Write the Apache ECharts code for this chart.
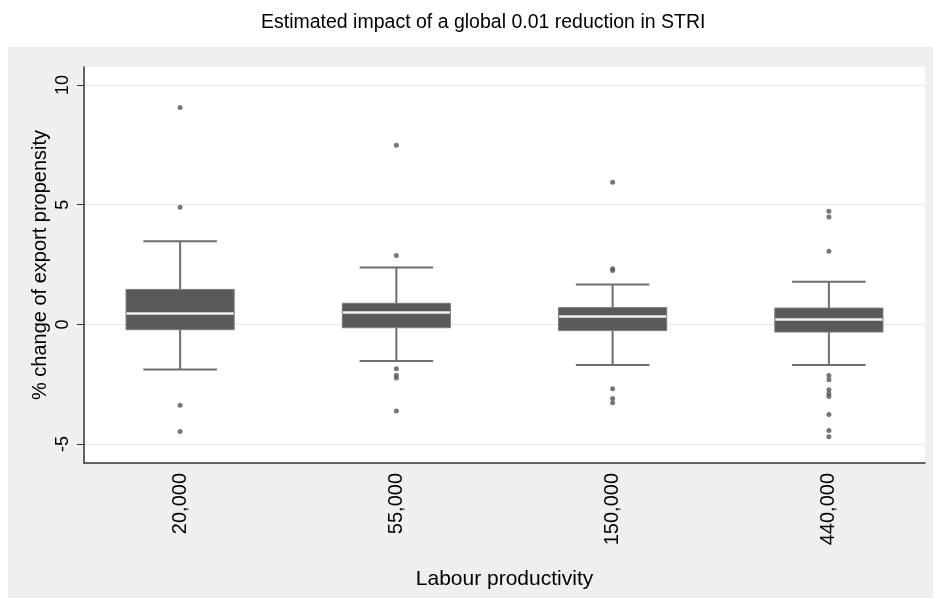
<!DOCTYPE html>
<html>
<head>
<meta charset="utf-8">
<script src="https://cdn.jsdelivr.net/npm/echarts@6/dist/echarts.min.js"></script>
<style>
html,body{margin:0;padding:0;background:#fff;}
#chart{width:933px;height:600px;}
</style>
</head>
<body>
<div id="chart"></div>
<script>
// Categories (labour productivity)
var categories = ['20,000', '55,000', '150,000', '440,000'];
// Box statistics per category: [lower whisker, Q1, median, Q3, upper whisker]
var lowerWhisker = [-1.88, -1.53, -1.70, -1.70];
var q1 = [-0.22, -0.14, -0.26, -0.32];
var median = [0.45, 0.50, 0.33, 0.20];
var q3 = [1.46, 0.88, 0.70, 0.68];
var upperWhisker = [3.47, 2.38, 1.67, 1.78];
// Outliers per category
var outliers20k = [9.06, 4.89, -3.38, -4.47];
var outliers55k = [7.48, 2.88, -1.85, -2.13, -2.24, -3.62];
var outliers150k = [5.94, 2.32, 2.25, -2.69, -3.10, -3.27];
var outliers440k = [4.73, 4.48, 3.05, -2.14, -2.31, -2.73, -2.90, -3.01, -3.76, -4.43, -4.69];
var yTicks = [-5, 0, 5, 10];

var boxData = categories.map(function (c, i) {
  return [i + 1, lowerWhisker[i], q1[i], median[i], q3[i], upperWhisker[i]];
});
var outlierData = [];
[outliers20k, outliers55k, outliers150k, outliers440k].forEach(function (arr, i) {
  arr.forEach(function (v) { outlierData.push([i + 1, v]); });
});

var chart = echarts.init(document.getElementById('chart'));
var option = {
  backgroundColor: '#ffffff',
  animation: false,
  title: {
    text: 'Estimated impact of a global 0.01 reduction in STRI',
    left: 256,
    top: 8,
    textStyle: { fontFamily: 'Liberation Sans', fontSize: 19.5, fontWeight: 'normal', color: '#000' }
  },
  graphic: [{
    type: 'rect',
    z: -100,
    silent: true,
    shape: { x: 8, y: 47, width: 925, height: 551 },
    style: { fill: '#efefef' }
  }],
  grid: {
    left: 84, right: 8, top: 67, bottom: 137,
    show: true, backgroundColor: '#ffffff', borderWidth: 0
  },
  xAxis: {
    type: 'value',
    min: 0.5555,
    max: 4.4445,
    name: 'Labour productivity',
    nameLocation: 'middle',
    nameGap: 106,
    nameMoveOverlap: false,
    nameTextStyle: { fontFamily: 'Liberation Sans', fontSize: 21, color: '#000' },
    axisLine: { show: true, onZero: false, lineStyle: { color: '#333', width: 1.5 } },
    axisTick: { show: false },
    splitLine: { show: false },
    axisLabel: {
      customValues: [1, 2, 3, 4],
      rotate: 90,
      margin: 10,
      fontFamily: 'Liberation Sans',
      fontSize: 20,
      color: '#000',
      formatter: function (v) { return categories[Math.round(v) - 1]; }
    }
  },
  yAxis: {
    type: 'value',
    min: -5.79,
    max: 10.75,
    name: '% change of export propensity',
    nameLocation: 'middle',
    nameGap: 34,
    nameMoveOverlap: false,
    nameTextStyle: { fontFamily: 'Liberation Sans', fontSize: 20, color: '#000' },
    axisLine: { show: true, lineStyle: { color: '#333', width: 1.5 } },
    axisTick: { show: true, customValues: yTicks, length: 7, lineStyle: { color: '#333' } },
    splitLine: { show: true, lineStyle: { color: '#e8e8e8', width: 1.2 } },
    axisLabel: {
      customValues: yTicks,
      rotate: 90,
      margin: 12,
      fontFamily: 'Liberation Sans',
      fontSize: 18,
      color: '#000'
    }
  },
  series: [{
    type: 'custom',
    data: boxData,
    renderItem: function (params, api) {
      var x = api.value(0);
      var pLow = api.coord([x, api.value(1)]);
      var pQ1 = api.coord([x, api.value(2)]);
      var pMed = api.coord([x, api.value(3)]);
      var pQ3 = api.coord([x, api.value(4)]);
      var pHigh = api.coord([x, api.value(5)]);
      var unit = api.size([1, 0])[0];
      var hw = unit * 0.25;
      var cw = unit * 0.17;
      var cx = pMed[0];
      var wStyle = { stroke: '#6e6e6e', lineWidth: 2 };
      return {
        type: 'group',
        children: [
          { type: 'line', shape: { x1: cx, y1: pQ3[1], x2: cx, y2: pHigh[1] }, style: wStyle },
          { type: 'line', shape: { x1: cx, y1: pQ1[1], x2: cx, y2: pLow[1] }, style: wStyle },
          { type: 'line', shape: { x1: cx - cw, y1: pHigh[1], x2: cx + cw, y2: pHigh[1] }, style: wStyle },
          { type: 'line', shape: { x1: cx - cw, y1: pLow[1], x2: cx + cw, y2: pLow[1] }, style: wStyle },
          { type: 'rect', shape: { x: cx - hw, y: pQ3[1], width: hw * 2, height: pQ1[1] - pQ3[1] },
            style: { fill: '#5a5a5a', stroke: '#7a7a7a', lineWidth: 1 } },
          { type: 'line', shape: { x1: cx - hw + 0.5, y1: pMed[1], x2: cx + hw - 0.5, y2: pMed[1] },
            style: { stroke: '#f2f2f2', lineWidth: 2.5 } }
        ]
      };
    },
    z: 2
  }, {
    type: 'scatter',
    data: outlierData,
    symbol: 'circle',
    symbolSize: 5,
    itemStyle: { color: '#555555' },
    z: 3
  }]
};
chart.setOption(option);
</script>
</body>
</html>
